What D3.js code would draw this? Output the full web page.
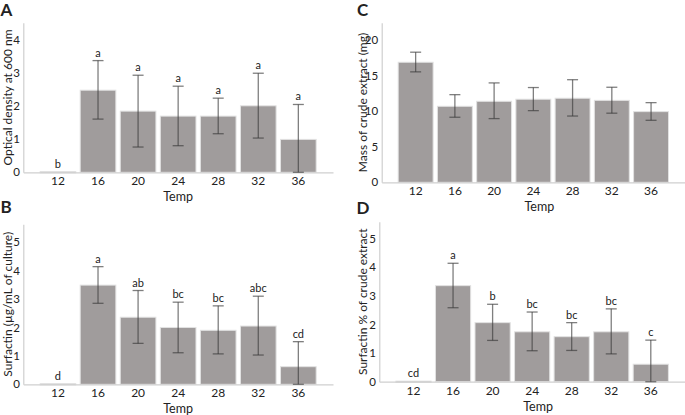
<!DOCTYPE html>
<html><head><meta charset="utf-8">
<script src="https://cdn.jsdelivr.net/npm/d3@7"></script>
<style>body{margin:0;background:#fff}svg{display:block}text{font-family:Lato,"Open Sans",sans-serif;fill:#222}</style>
</head><body><svg id="c" width="685" height="415"></svg>
<script>
const temps = ["12","16","20","24","28","32","36"];
// Panel A: optical density
const odMean = [0.02, 2.47, 1.84, 1.69, 1.69, 2.0, 0.99];
const odHi   = [0.02, 3.36, 2.92, 2.59, 2.23, 2.98, 2.04];
const odLo   = [0.02, 1.6, 0.76, 0.8, 1.16, 1.03, 0.0];
const odLetters = ["b","a","a","a","a","a","a"];
// Panel B: surfactin per culture
const sfMean = [0.02, 3.49, 2.36, 2.0, 1.9, 2.05, 0.62];
const sfHi   = [0.02, 4.14, 3.3, 2.89, 2.76, 3.1, 1.5];
const sfLo   = [0.02, 2.85, 1.44, 1.11, 1.07, 1.03, 0.0];
const sfLetters = ["d","a","ab","bc","bc","abc","cd"];
// Panel C: mass of crude extract
const mcMean = [16.85, 10.67, 11.37, 11.66, 11.8, 11.5, 9.92];
const mcHi   = [18.26, 12.3, 13.95, 13.3, 14.4, 13.34, 11.18];
const mcLo   = [15.5, 9.13, 8.94, 10.06, 9.3, 9.7, 8.7];
// Panel D: surfactin % of crude extract
const pcMean = [0.02, 3.35, 2.06, 1.74, 1.57, 1.74, 0.61];
const pcHi   = [0.02, 4.13, 2.7, 2.43, 2.06, 2.54, 1.45];
const pcLo   = [0.02, 2.58, 1.44, 1.08, 1.09, 0.97, 0.0];
const pcLetters = ["cd","a","b","bc","bc","bc","c"];

const panels = [
  {tag:"A", title:"Optical density at 600 nm", mean:odMean, hi:odHi, lo:odLo, letters:odLetters,
   ymax:4.5, ticks:[0,1,2,3,4], x0:23.3, x1:333, top:22.7, bottom:172.3, tagX:0.5, tagY:15.5, titleX:11.5},
  {tag:"B", title:"Surfactin (\u00b5g/mL of culture)", mean:sfMean, hi:sfHi, lo:sfLo, letters:sfLetters,
   ymax:5.63, ticks:[0,1,2,3,4,5], x0:23.3, x1:333, top:224.3, bottom:384.3, tagX:0.5, tagY:213, titleX:11.5},
  {tag:"C", title:"Mass of crude extract (mg)", mean:mcMean, hi:mcHi, lo:mcLo, letters:null,
   ymax:22.4, ticks:[0,5,10,15,20], x0:381.7, x1:685, top:22.7, bottom:182.3, tagX:357, tagY:15.5, titleX:366.5},
  {tag:"D", title:"Surfactin % of crude extract", mean:pcMean, hi:pcHi, lo:pcLo, letters:pcLetters,
   ymax:5.58, ticks:[0,1,2,3,4,5], x0:379.3, x1:685, top:221.7, bottom:381.7, tagX:356.5, tagY:213.5, titleX:366.5}
];

const svg = d3.select("#c");
panels.forEach(p => {
  const g = svg.append("g");
  const x = d3.scaleBand().domain(temps).range([p.x0, p.x1]).paddingInner(0.11).paddingOuter(0.42);
  const y = d3.scaleLinear().domain([0, p.ymax]).range([p.bottom, p.top]);
  // bars
  g.selectAll("rect.bar").data(temps).enter().append("rect")
    .attr("x", d => x(d)).attr("width", x.bandwidth())
    .attr("y", (d,i) => y(p.mean[i])).attr("height", (d,i) => Math.max(1.2, y(0) - y(p.mean[i])))
    .attr("fill", "#a09c9c").attr("stroke", "#e2e2e2").attr("stroke-width", 1);
  // axes
  const ya = d3.axisLeft(y).tickValues(p.ticks).tickSize(0).tickPadding(3.5).tickFormat(d3.format("d"));
  const ag = g.append("g").attr("transform", `translate(${p.x0},0)`).call(ya);
  ag.select(".domain").attr("stroke", "#cfcfcf").attr("stroke-width", 1.2);
  ag.selectAll("text").attr("font-size", 11.5).attr("fill", "#222");
  const xa = d3.axisBottom(x).tickSize(0).tickPadding(4.5);
  const xg = g.append("g").attr("transform", `translate(0,${p.bottom})`).call(xa);
  xg.select(".domain").attr("stroke", "#cfcfcf").attr("stroke-width", 1.2);
  xg.selectAll("text").attr("font-size", 12).attr("fill", "#222");
  // error bars
  const cx = d => x(d) + x.bandwidth()/2;
  const eb = g.selectAll("g.eb").data(temps.map((t,i)=>({t,i})).filter(o => p.hi[o.i] - p.lo[o.i] > 0.01)).enter().append("g")
    .attr("stroke", "#3a3a3a").attr("stroke-opacity", 0.65).attr("stroke-width", 1.3);
  eb.append("line").attr("x1", o => cx(o.t)).attr("x2", o => cx(o.t)).attr("y1", o => y(p.hi[o.i])).attr("y2", o => y(p.lo[o.i]));
  eb.append("line").attr("x1", o => cx(o.t)-5.5).attr("x2", o => cx(o.t)+5.5).attr("y1", o => y(p.hi[o.i])).attr("y2", o => y(p.hi[o.i]));
  eb.append("line").attr("x1", o => cx(o.t)-5.5).attr("x2", o => cx(o.t)+5.5).attr("y1", o => y(p.lo[o.i])).attr("y2", o => y(p.lo[o.i]));
  // letters
  if (p.letters) {
    g.selectAll("text.let").data(temps).enter().append("text")
      .attr("x", d => cx(d)).attr("y", (d,i) => y(p.hi[i]) - 4)
      .attr("text-anchor", "middle").attr("font-size", 11).attr("fill", "#222").text((d,i) => p.letters[i]);
  }
  // x title
  g.append("text").attr("x", (p.x0 + (p.tag==="A"||p.tag==="B" ? 333 : 685))/2 + (p.tag==="C"||p.tag==="D" ? 6 : 0))
    .attr("y", p.bottom + 29).attr("text-anchor", "middle").attr("font-size", 12.5).text("Temp");
  // y title
  g.append("text").attr("transform", `translate(${p.titleX},${(p.top+p.bottom)/2}) rotate(-90)`)
    .attr("text-anchor", "middle").attr("font-size", 12).text(p.title);
  // panel tag
  g.append("text").attr("x", p.tagX).attr("y", p.tagY).attr("font-size", 17).attr("font-weight", "bold")
    .attr("fill", "#000").text(p.tag);
});
</script></body></html>
